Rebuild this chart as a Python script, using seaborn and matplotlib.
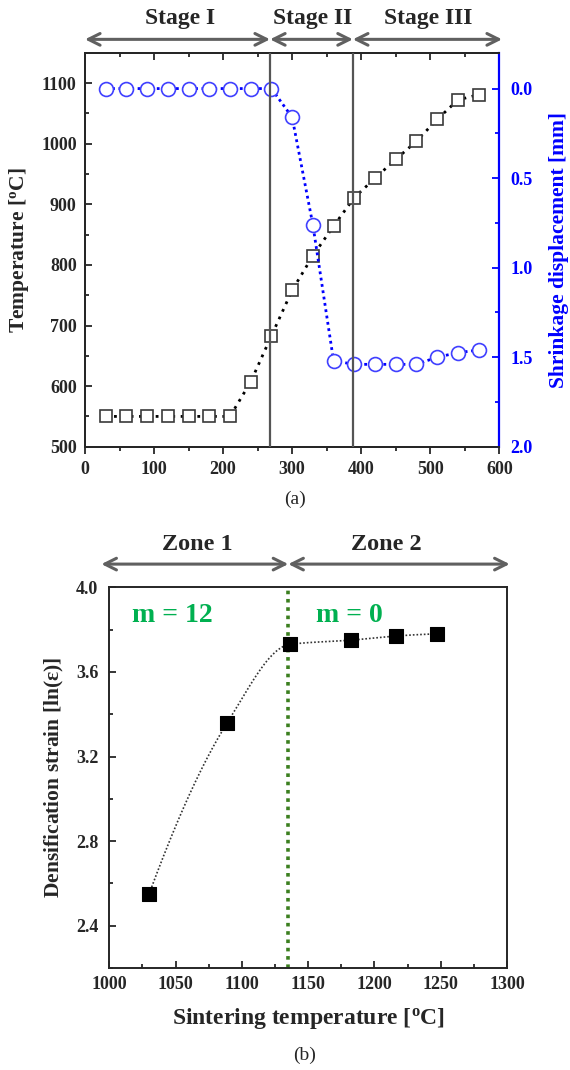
import numpy as np
import matplotlib
matplotlib.use("Agg")
import matplotlib.pyplot as plt
import seaborn as sns
from matplotlib.ticker import MultipleLocator, FormatStrFormatter

# ---- data (a): heating schedule vs. shrinkage
time_s = [30, 60, 90, 120, 150, 180, 210, 240, 270, 300,
          330, 360, 390, 420, 450, 480, 510, 540, 570]
temperature = [550, 550, 550, 550, 550, 550, 550, 607, 683, 758,
               815, 864, 911, 943, 974, 1004, 1040, 1072, 1081]
shrinkage = [0.0, 0.0, 0.0, 0.0, 0.0, 0.0, 0.0, 0.0, 0.0, 0.16,
             0.76, 1.52, 1.54, 1.54, 1.54, 1.54, 1.50, 1.475, 1.46]
stage_bounds = [268, 388]
stage_names = ["Stage I", "Stage II", "Stage III"]

# ---- data (b): densification strain vs. sintering temperature
sinter_temp = [1030, 1089, 1136, 1182, 1216, 1247]
strain = [2.55, 3.36, 3.73, 3.75, 3.77, 3.78]
zone_bound = 1135
zone_names = ["Zone 1", "Zone 2"]
slopes = ["m = 12", "m = 0"]


def pchip(x, y, xn):
    # monotone cubic (Fritsch-Carlson) smooth curve through the points
    x = np.asarray(x, float)
    y = np.asarray(y, float)
    h = np.diff(x)
    d = np.diff(y) / h
    m = np.zeros_like(y)
    for i in range(1, len(x) - 1):
        if d[i - 1] * d[i] > 0:
            w1 = 2 * h[i] + h[i - 1]
            w2 = h[i] + 2 * h[i - 1]
            m[i] = (w1 + w2) / (w1 / d[i - 1] + w2 / d[i])
    m[0] = ((2 * h[0] + h[1]) * d[0] - h[0] * d[1]) / (h[0] + h[1])
    m[-1] = ((2 * h[-1] + h[-2]) * d[-1] - h[-1] * d[-2]) / (h[-1] + h[-2])
    idx = np.clip(np.searchsorted(x, xn) - 1, 0, len(x) - 2)
    t = (xn - x[idx]) / h[idx]
    return ((2 * t**3 - 3 * t**2 + 1) * y[idx]
            + (t**3 - 2 * t**2 + t) * h[idx] * m[idx]
            + (-2 * t**3 + 3 * t**2) * y[idx + 1]
            + (t**3 - t**2) * h[idx] * m[idx + 1])


sns.set_theme(style="ticks")
plt.rcParams["font.family"] = ["Liberation Serif", "DejaVu Serif"]
plt.rcParams["font.weight"] = "bold"
plt.rcParams["mathtext.fontset"] = "custom"
plt.rcParams["mathtext.rm"] = "Liberation Serif:bold"
plt.rcParams["mathtext.it"] = "Liberation Serif:bold"
plt.rcParams["axes.linewidth"] = 1.4

GREY = "#606060"
BLUE = "#0000ff"
GREEN = "#00b050"
TICK = 13

fig = plt.figure(figsize=(5.7, 10.7), dpi=100)

# ================= (a) =================
ax1 = fig.add_axes([0.1491, 0.5825, 0.7268, 0.3682])
ax1r = ax1.twinx()

sns.lineplot(x=time_s, y=temperature, ax=ax1, color="black",
             linestyle=(0, (1, 2)), linewidth=2, marker="s", markersize=9,
             markerfacecolor="white", markeredgecolor="#3a3a3a",
             markeredgewidth=1.2)
sns.lineplot(x=time_s, y=shrinkage, ax=ax1r, color=BLUE,
             linestyle=(0, (1, 1.3)), linewidth=2, marker="o", markersize=10,
             markerfacecolor="white", markeredgecolor="#4040ff",
             markeredgewidth=1.2)

ax1.set_xlim(0, 600)
ax1.set_ylim(500, 1150)
ax1r.set_ylim(2.0, -0.2)

for xb in stage_bounds:
    ax1r.axvline(xb, color="#555555", linewidth=1.6, zorder=5)

ax1.xaxis.set_major_locator(MultipleLocator(100))
ax1.xaxis.set_minor_locator(MultipleLocator(50))
ax1.yaxis.set_major_locator(MultipleLocator(100))
ax1.yaxis.set_minor_locator(MultipleLocator(50))
ax1r.yaxis.set_major_locator(MultipleLocator(0.5))
ax1r.yaxis.set_minor_locator(MultipleLocator(0.25))
ax1r.yaxis.set_major_formatter(FormatStrFormatter("%.1f"))

ax1.tick_params(axis="x", which="both", direction="out", labelsize=TICK,
                width=1.3, pad=5)
ax1.tick_params(axis="x", which="major", length=5)
ax1.tick_params(axis="x", which="minor", length=3)
ax1.tick_params(axis="y", which="both", direction="in", labelsize=TICK,
                width=1.3, pad=6)
ax1.tick_params(axis="y", which="major", length=5)
ax1.tick_params(axis="y", which="minor", length=3)
ax1r.tick_params(axis="y", which="both", direction="in", colors=BLUE,
                 labelsize=TICK, width=1.3, pad=8)
ax1r.tick_params(axis="y", which="major", length=5)
ax1r.tick_params(axis="y", which="minor", length=3)
ax1r.spines["right"].set_color(BLUE)
ax1r.spines["right"].set_linewidth(1.6)

top = ax1.secondary_xaxis("top")
top.xaxis.set_major_locator(MultipleLocator(100))
top.xaxis.set_minor_locator(MultipleLocator(50))
top.tick_params(which="both", direction="in", labeltop=False, width=1.3)
top.tick_params(which="major", length=5)
top.tick_params(which="minor", length=3)

ax1.set_ylabel(r"Temperature [$^{\mathrm{o}}$C]", fontsize=15.5,
               fontweight="bold", labelpad=7)
ax1r.set_ylabel("Shrinkage displacement [mm]", fontsize=15.5,
                fontweight="bold", color=BLUE, labelpad=12)

# stage arrows
edges = [0] + stage_bounds + [604]
for i in range(len(stage_names)):
    ax1.annotate("", xy=(edges[i + 1], 1.034), xytext=(edges[i], 1.034),
                 xycoords=ax1.get_xaxis_transform(),
                 arrowprops=dict(arrowstyle="<->,head_length=0.7,head_width=0.35",
                                 color=GREY, lw=2.2, shrinkA=0, shrinkB=0),
                 annotation_clip=False)
label_x = [137, 330, 497]
for name, lx in zip(stage_names, label_x):
    ax1.text(lx, 1.088, name, transform=ax1.get_xaxis_transform(),
             ha="center", va="center", fontsize=17, fontweight="bold")

fig.text(0.518, 0.533, "(a)", ha="center", va="center", fontsize=14,
         fontweight="normal")

# ================= (b) =================
ax2 = fig.add_axes([0.1918, 0.0953, 0.6977, 0.3558])

fit_x = np.linspace(min(sinter_temp), max(sinter_temp), 200)
fit_y = pchip(sinter_temp, strain, fit_x)

sns.lineplot(x=fit_x, y=fit_y, ax=ax2, color="#333333",
             linestyle=(0, (1, 1.2)), linewidth=1.2)
ax2.axvline(zone_bound, color="#3b7f1f", linestyle=(0, (1, 1.3)),
            linewidth=2.6, zorder=1)
sns.scatterplot(x=sinter_temp, y=strain, ax=ax2, marker="s", s=95,
                color="black", edgecolor="black", zorder=4)

ax2.set_xlim(1000, 1300)
ax2.set_ylim(2.2, 4.0)
ax2.xaxis.set_major_locator(MultipleLocator(50))
ax2.xaxis.set_minor_locator(MultipleLocator(25))
ax2.yaxis.set_major_locator(MultipleLocator(0.4))
ax2.yaxis.set_minor_locator(MultipleLocator(0.2))
ax2.yaxis.set_major_formatter(FormatStrFormatter("%.1f"))
ax2.tick_params(which="both", direction="in", labelsize=TICK, width=1.3)
ax2.tick_params(axis="x", pad=6)
ax2.tick_params(axis="y", pad=8)
ax2.tick_params(which="major", length=5)
ax2.tick_params(which="minor", length=3)

ax2.set_xlabel(r"Sintering temperature [$^{\mathrm{o}}$C]", fontsize=17,
               fontweight="bold", labelpad=9)
ax2.set_ylabel(r"Densification strain [ln($\varepsilon$)]", fontsize=15.5,
               fontweight="bold", labelpad=7)

zone_edges = [994, zone_bound, 1302]
for i in range(len(zone_names)):
    ax2.annotate("", xy=(zone_edges[i + 1], 1.061), xytext=(zone_edges[i], 1.061),
                 xycoords=ax2.get_xaxis_transform(),
                 arrowprops=dict(arrowstyle="<->,head_length=0.7,head_width=0.35",
                                 color=GREY, lw=2.2, shrinkA=0, shrinkB=0),
                 annotation_clip=False)
for name, lx in zip(zone_names, [1066, 1209]):
    ax2.text(lx, 1.113, name, transform=ax2.get_xaxis_transform(),
             ha="center", va="center", fontsize=17.5, fontweight="bold")
for txt, lx in zip(slopes, [1017, 1156]):
    ax2.text(lx, 0.927, txt, transform=ax2.get_xaxis_transform(),
             ha="left", va="center", fontsize=20, fontweight="bold",
             color=GREEN)

fig.text(0.535, 0.014, "(b)", ha="center", va="center", fontsize=14,
         fontweight="normal")

fig.savefig("out.png", dpi=100)
